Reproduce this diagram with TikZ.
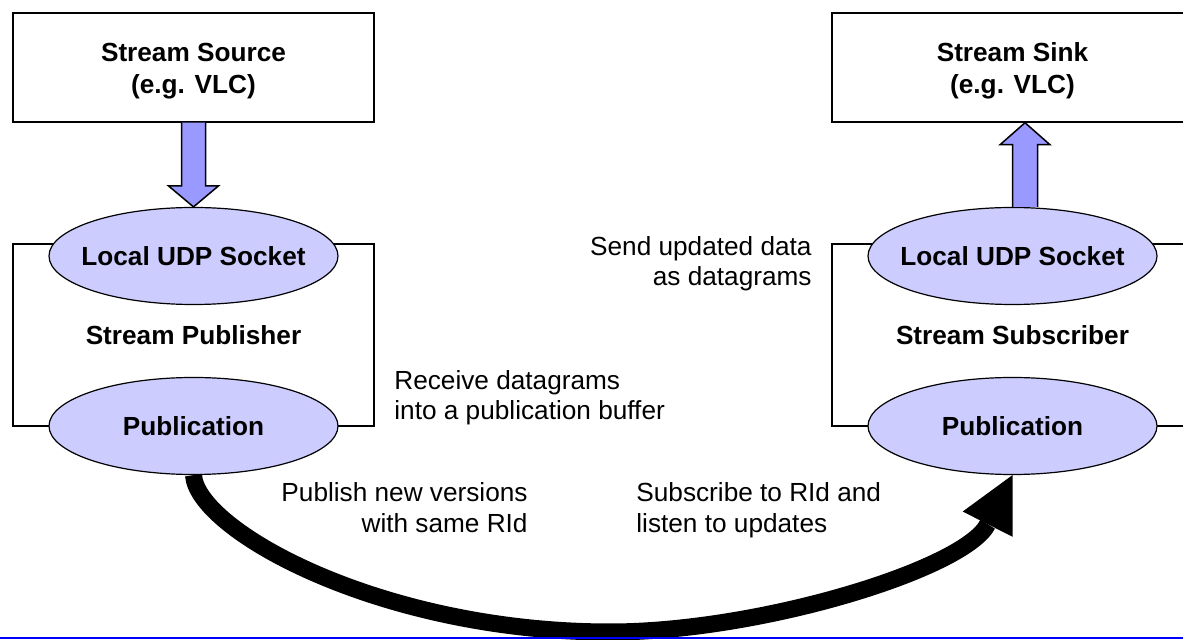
\documentclass[tikz,border=0pt]{standalone}
\usepackage{fontspec}
\setmainfont{Liberation Sans}
\usetikzlibrary{shapes.geometric,arrows.meta,calc}
\definecolor{socketfill}{HTML}{CCCCFF}
\definecolor{feedfill}{HTML}{9999FF}
\definecolor{rulecolor}{HTML}{0000FF}
% zero-width label so the ellipse keeps its set size
\newcommand{\slim}[1]{\makebox[0pt]{#1}}

\begin{document}
\begin{tikzpicture}[x=0.5pt,y=-0.5pt,
  every node/.style={font=\fontsize{13.1}{15}\selectfont},
  device/.style={draw, line width=0.75pt, minimum width=180.5pt,
    minimum height=54.5pt, inner sep=0pt},
  container/.style={draw, line width=0.75pt, minimum width=180.5pt,
    minimum height=91pt, inner sep=0pt,
    font=\fontsize{13.1}{15}\selectfont\bfseries},
  endpoint/.style={ellipse, draw, line width=0.6pt, fill=socketfill,
    minimum width=144.5pt, minimum height=48.5pt, inner sep=0pt,
    font=\fontsize{13.1}{15}\selectfont\bfseries},
  boxtext/.style={inner sep=0pt, anchor=base,
    font=\fontsize{13.1}{16}\selectfont\bfseries},
  note/.style={inner sep=0pt},
  feed/.style={draw, line width=0.75pt, fill=feedfill, line join=miter},
  flow/.style={line width=8.5pt,
    -{Triangle[length=27.5pt,width=28pt,line width=0pt]}},
]
\useasboundingbox (0,0) rectangle (1183,640);
\clip (0,0) rectangle (1183,640);

% media programs
\node[device] (src) at (193.5,67.5) {};
\node[boxtext] (srcA) at (193.5,62) {Stream Source};
\node[boxtext] (srcB) at (193.5,94) {(e.g. VLC)};
\node[device] (snk) at (1012.5,67.5) {};
\node[boxtext] (snkA) at (1012.5,62) {Stream Sink};
\node[boxtext] (snkB) at (1012.5,94) {(e.g. VLC)};

% publisher and subscriber frames
\node[container] (pubframe) at (193.5,335) {Stream Publisher};
\node[container] (subframe) at (1012.5,335) {Stream Subscriber};

% sockets and publications
\node[endpoint] (ludp) at (193.5,256) {\slim{Local UDP Socket}};
\node[endpoint] (lpub) at (193.5,426) {\slim{Publication}};
\node[endpoint] (rudp) at (1012.5,256) {\slim{Local UDP Socket}};
\node[endpoint] (rpub) at (1012.5,426) {\slim{Publication}};

% block arrows between programs and sockets
\draw[feed] ($(src.south)+(-12,0)$) -- ($(ludp.north)+(-12,-21)$)
  -- ($(ludp.north)+(-25,-21)$) -- (ludp.north)
  -- ($(ludp.north)+(25,-21)$) -- ($(ludp.north)+(12,-21)$)
  -- ($(src.south)+(12,0)$);
\draw[feed] (rudp.north) -- ($(snk.south)+(0,22)$)
  -- ($(snk.south)+(-12.5,22)$) -- ($(snk.south)+(12.5,0)$)
  -- ($(snk.south)+(37.5,22)$) -- ($(snk.south)+(25,22)$)
  -- ($(rudp.north)+(25,0)$);

% annotations
\node[note, anchor=base east] (sendA) at (812,256) {Send updated data};
\node[note, anchor=base east] (sendB) at (812,286) {as datagrams};
\node[note, anchor=base west] (recvA) at (394,390) {Receive datagrams};
\node[note, anchor=base west] (recvB) at (394,420) {into a publication buffer};
\node[note, anchor=base east] (pubA) at (528,502) {Publish new versions};
\node[note, anchor=base east] (pubB) at (528,533) {with same RId};
\node[note, anchor=base west] (subA) at (636,502) {Subscribe to RId and};
\node[note, anchor=base west] (subB) at (636,533) {listen to updates};

% publication to subscription
\coordinate (dip) at (610,632);
\draw[flow] (lpub.south) .. controls (197,530) and (380,632) .. (dip)
  .. controls (760,632) and (965,569) .. (rpub.south);

% bottom rule
\draw[rulecolor, line width=1pt] (0,638) -- (1183,638);
\end{tikzpicture}
\end{document}
